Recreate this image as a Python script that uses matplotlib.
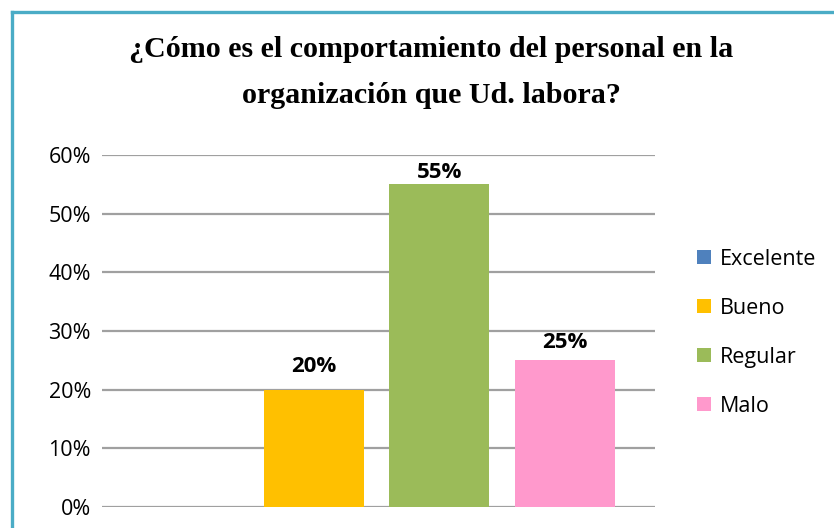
import matplotlib
matplotlib.use('Agg')
import matplotlib.pyplot as plt
from matplotlib.lines import Line2D
from matplotlib.patches import Patch

categorias = ['Excelente', 'Bueno', 'Regular', 'Malo']
valores = [0.0, 0.20, 0.55, 0.25]
colores = ['#4F81BD', '#FFC000', '#9BBB59', '#FF99CC']
etiquetas = ['', '20%', '55%', '25%']
yticks = [0, 0.1, 0.2, 0.3, 0.4, 0.5, 0.6]
ytick_labels = ['0%', '10%', '20%', '30%', '40%', '50%', '60%']

fig = plt.figure(figsize=(8.34, 5.28), dpi=100)
ax = fig.add_axes([0.1223, 0.0398, 0.663, 0.6667])

xs = range(len(categorias))
ax.bar(xs, valores, width=0.8, color=colores, zorder=3)

# data labels (offsets in points, as in the original)
offsets = [0, 9, 1, 5]
for i in range(len(categorias)):
    if etiquetas[i]:
        ax.annotate(etiquetas[i], (i, valores[i]), xytext=(0, offsets[i]),
                    textcoords='offset points', ha='center', va='bottom',
                    fontsize=16, fontweight='bold', family='Open Sans', zorder=4)

ax.set_xlim(-0.69, 3.72)
ax.set_ylim(0, 0.6)
ax.set_yticks(yticks)
ax.set_yticklabels(ytick_labels, fontsize=15.5, family='Open Sans')
ax.set_xticks([])
ax.tick_params(axis='y', length=0, pad=8)
for s in ax.spines.values():
    s.set_visible(False)
ax.yaxis.grid(True, color='#A0A0A0', linewidth=1.6, zorder=0)
ax.set_axisbelow(True)

fig.text(0.517, 0.862, '¿Cómo es el comportamiento del personal en la\norganización que Ud. labora?',
         ha='center', va='center', fontsize=21.6, fontweight='bold', family='Liberation Serif',
         linespacing=1.9)

handles = [Patch(facecolor=c, edgecolor='none') for c in colores]
fig.legend(handles, categorias, loc='center left', bbox_to_anchor=(0.812, 0.37),
           frameon=False, prop={'family': 'Open Sans', 'size': 15.5},
           handlelength=0.65, handleheight=0.65, handletextpad=0.45, labelspacing=1.3)

# teal frame
fig.add_artist(Line2D([0.0145, 1.0], [0.977, 0.977], color='#4BACC6', linewidth=2.4,
                      transform=fig.transFigure))
fig.add_artist(Line2D([0.0145, 0.0145], [0.0, 0.977], color='#4BACC6', linewidth=2.4,
                      transform=fig.transFigure))

fig.savefig('out.png', dpi=100)
